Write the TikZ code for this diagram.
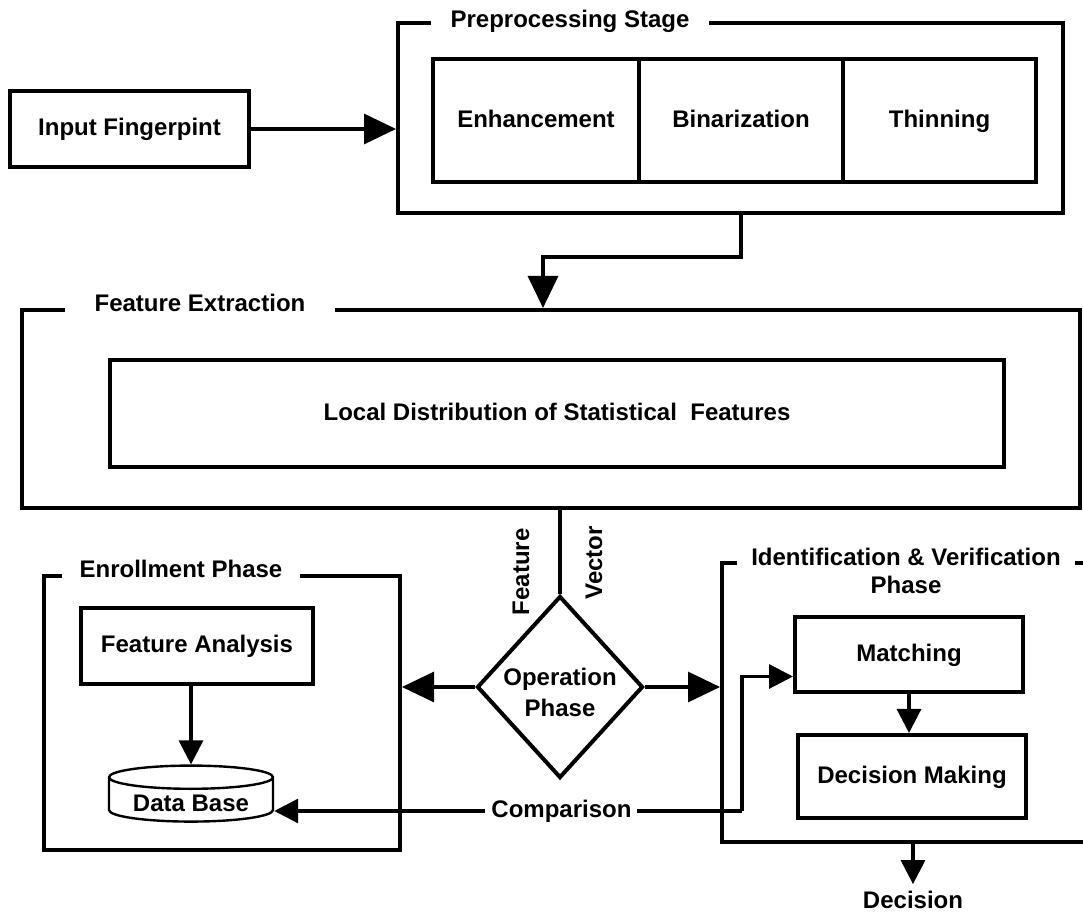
\documentclass[tikz,border=0pt]{standalone}
\usepackage{fontspec}
\setmainfont{Liberation Sans}
\usetikzlibrary{arrows.meta,shapes.geometric}

\begin{document}
\begin{tikzpicture}[x=0.5pt,y=-0.5pt,font=\fontsize{12}{14}\selectfont\bfseries,
    frame/.style={draw,line width=2pt,inner sep=0pt},
    box/.style={draw,line width=2pt,inner sep=0pt,text height=9pt,text depth=2pt},
    title/.style={fill=white,inner xsep=9pt,inner ysep=1pt},
    link/.style={line width=1.6pt},
    arr/.style={link,-{Triangle[length=16pt,width=15pt]}},
    arrs/.style={link,-{Triangle[length=12pt,width=12pt]}}]
    \clip (0,0) rectangle (1083,913);
    \fill[white] (0,0) rectangle (1083,913);

    % input and preprocessing
    \node[box,minimum width=119.5pt,minimum height=38pt] (inp) at (129.5,129) {Input Fingerpint};
    \node[frame,minimum width=332.5pt,minimum height=95pt] (pre) at (730.5,118) {};
    \node[title,inner xsep=10pt,anchor=base] at (570,28) {Preprocessing Stage};
    \node[box,minimum width=103pt,minimum height=61.5pt] (enh) at (536,120.5) {Enhancement};
    \node[box,minimum width=102pt,minimum height=61.5pt] (bin) at (741,120.5) {Binarization};
    \node[box,minimum width=96.5pt,minimum height=61.5pt] (thin) at (939.5,120.5) {Thinning};
    \draw[arr] (inp.east) -- (inp.east -| pre.west);

    % feature extraction
    \node[frame,minimum width=529pt,minimum height=99pt] (fe) at (551,409) {};
    \node[title,inner xsep=15pt,anchor=base] at (200,312) {Feature Extraction};
    \node[box,minimum width=447pt,minimum height=53.5pt] (loc) at (557,413.5) {Local Distribution of Statistical\ \ Features};
    \draw[arr] (bin |- pre.south) -- ++(0,42) -| ([xshift=-4pt]fe.north);

    % operation phase
    \node[draw,diamond,line width=2pt,minimum width=83pt,minimum height=91pt,inner sep=0pt,align=center] (op) at (560,687) {\raisebox{-2.5pt}[\height][\depth]{Operation}\\[1.5pt]\raisebox{-2.5pt}[\height][\depth]{Phase}};
    \draw[link] (op.north |- fe.south) -- (op.north);
    \node[rotate=90] at (521,572) {Feature};
    \node[rotate=90] at (594,563) {Vector};

    % enrollment
    \node[frame,minimum width=178pt,minimum height=137pt] (en) at (222,713) {};
    \node[title,anchor=base] at (181,578) {Enrollment Phase};
    \node[box,minimum width=116pt,minimum height=38pt] (fa) at (197,646) {Feature Analysis};
    \node[draw,cylinder,shape border rotate=90,aspect=0.2,line width=1.2pt,minimum width=82pt,minimum height=28pt,inner sep=0pt] (db) at (191,800) {\raisebox{-1.5pt}[\height][\depth]{Data Base}};
    \draw[arrs] (db.north |- fa.south) -- (db.north);

    % identification and verification
    \node[frame,minimum width=189pt,minimum height=139.5pt] (id) at (911,702.5) {};
    \node[title,inner xsep=7pt,align=center,anchor=north] at (906,546) {Identification \& Verification\\Phase};
    \node[box,minimum width=114pt,minimum height=37.5pt] (mat) at (909,654.5) {Matching};
    \node[box,minimum width=114pt,minimum height=41.5pt] (dm) at (912,776.5) {Decision Making};
    \draw[arrs] (mat.south) -- (mat.south |- dm.north);
    \node (dec) at (913,900) {Decision};
    \draw[arrs] (dec.north |- id.south) -- (dec.north);

    \draw[arr] (op.west) -- (op.west -| en.east);
    \draw[arr] (op.east) -- (op.east -| id.west);

    % comparison loop
    \coordinate (cmp) at (742,811);
    \draw[arrs] (cmp) -- node[pos=0.386,fill=white,inner xsep=3pt] {Comparison} (cmp -| db.east);
    \draw[arrs] (cmp) |- ([yshift=-11pt]mat.west);
\end{tikzpicture}
\end{document}
